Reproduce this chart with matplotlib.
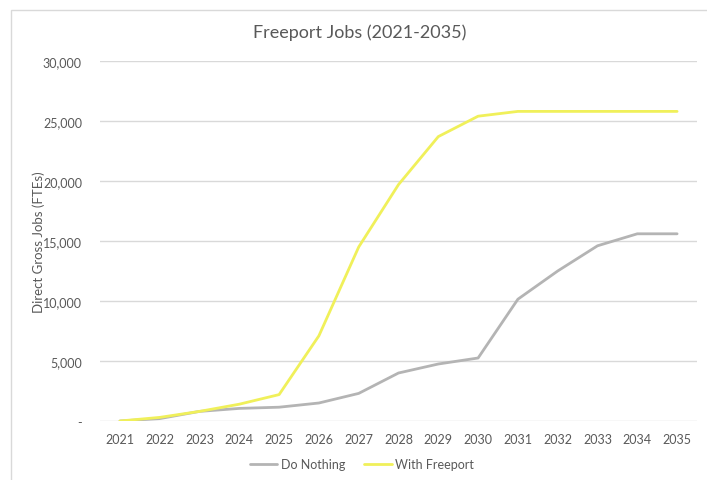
import matplotlib
matplotlib.use("Agg")
import matplotlib.pyplot as plt
from matplotlib.ticker import FuncFormatter
from matplotlib.patches import Rectangle

years = [str(y) for y in range(2021, 2036)]
do_nothing = [0, 200, 800, 1050, 1150, 1500, 2300, 4000, 4750, 5250,
              10150, 12500, 14600, 15600, 15600]
with_freeport = [0, 300, 800, 1400, 2200, 7100, 14500, 19700, 23700, 25400,
                 25800, 25800, 25800, 25800, 25800]
y_ticks = [0, 5000, 10000, 15000, 20000, 25000, 30000]

plt.rcParams['font.family'] = ['Lato', 'DejaVu Sans']
txt = '#595959'

W, H = 707, 481
fig = plt.figure(figsize=(W / 100, H / 100), dpi=100)
fig.patch.set_facecolor('white')

# chart frame
fig.add_artist(Rectangle((11 / W, -0.1), 1.2, 1 - 11 / H + 0.1,
                         transform=fig.transFigure, fill=False,
                         edgecolor='#d9d9d9', linewidth=1.0))

left, right, top, bottom = 100, 697, 62, 422
ax = fig.add_axes([left / W, 1 - bottom / H, (right - left) / W, (bottom - top) / H])

x = list(range(len(years)))
ax.plot(x, do_nothing, color='#b4b4b4', linewidth=2.0, label='Do Nothing',
        solid_joinstyle='round', solid_capstyle='round')
ax.plot(x, with_freeport, color='#f0f05a', linewidth=2.0, label='With Freeport',
        solid_joinstyle='round', solid_capstyle='round')

ax.set_xlim(-0.5, len(years) - 0.5)
ax.set_ylim(0, 30000)
ax.set_yticks(y_ticks)
ax.yaxis.set_major_formatter(FuncFormatter(lambda v, p: '-' if v == 0 else f'{int(v):,}'))
ax.set_xticks(x)
ax.set_xticklabels(years)
ax.grid(axis='y', color='#d9d9d9', linewidth=1.0)
ax.set_axisbelow(True)
for s in ax.spines.values():
    s.set_visible(False)
ax.tick_params(axis='both', length=0, colors=txt, labelsize=9)
ax.tick_params(axis='y', pad=13)
ax.tick_params(axis='x', pad=9)

fig.text(39 / W, 1 - 242 / H, 'Direct Gross Jobs (FTEs)', rotation=90,
         ha='center', va='center', color=txt, fontsize=9.5)
fig.text(360 / W, 1 - 33 / H, 'Freeport Jobs (2021-2035)', ha='center',
         va='center', color=txt, fontsize=13)

leg = fig.legend(loc='center', bbox_to_anchor=(362 / W, 1 - 465 / H), ncol=2,
                 frameon=False, fontsize=9, handlelength=2.2, columnspacing=1.5,
                 handletextpad=0.3)
for t in leg.get_texts():
    t.set_color(txt)

fig.savefig('out.png', dpi=100, facecolor='white')
